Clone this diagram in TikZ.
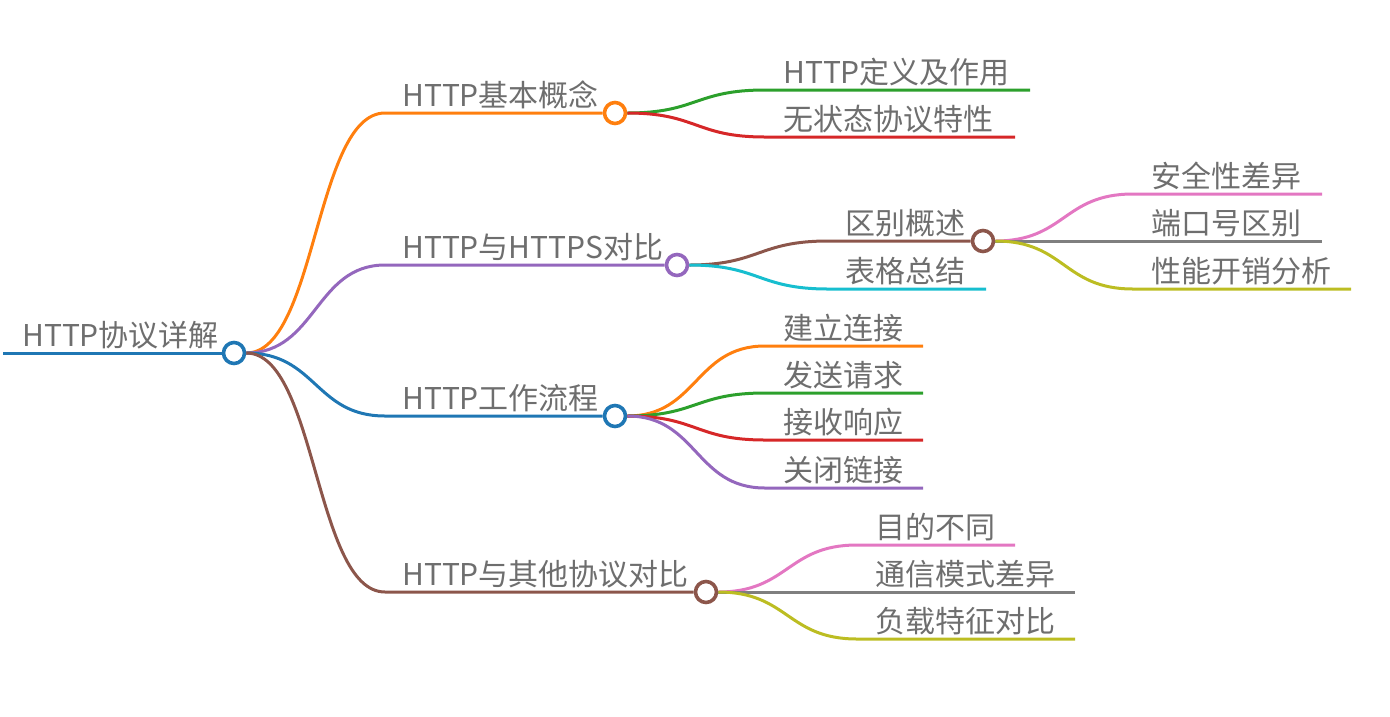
\documentclass[tikz,border=0pt]{standalone}
\usepackage{fontspec}
\setmainfont{Noto Sans CJK SC}
\definecolor{cO}{HTML}{FF7F0E}
\definecolor{cG}{HTML}{2CA02C}
\definecolor{cR}{HTML}{D62728}
\definecolor{cP}{HTML}{9467BD}
\definecolor{cBr}{HTML}{8C564B}
\definecolor{cPk}{HTML}{E377C2}
\definecolor{cGy}{HTML}{7F7F7F}
\definecolor{cOl}{HTML}{BCBD22}
\definecolor{cC}{HTML}{17BECF}
\definecolor{cB}{HTML}{1F77B4}
\definecolor{txt}{HTML}{6E6E6E}
\begin{document}
\begin{tikzpicture}[x=1pt,y=-1pt,
  edge/.style={line width=3pt},
  hub/.style={circle,draw,line width=2.6pt,fill=white,minimum size=22pt,inner sep=0pt},
  lbl/.style={anchor=base west,inner sep=0pt,text=txt,font=\fontsize{30}{36}\selectfont}]
\useasboundingbox (0,0) rectangle (1390,716);
% root
\coordinate (r0) at (3,353);
\node[hub,draw=cB] (r) at (234,353) {};
\node[lbl] (rt) at (22,346) {HTTP协议详解};
% level 1 hubs
\coordinate (a1s) at (385,113);
\node[hub,draw=cO] (a1) at (615,113) {};
\node[lbl] (a1t) at (402,106) {HTTP基本概念};
\coordinate (a2s) at (385,265);
\node[hub,draw=cP] (a2) at (677,265) {};
\node[lbl] (a2t) at (402,258) {HTTP与HTTPS对比};
\coordinate (a3s) at (385,416);
\node[hub,draw=cB] (a3) at (615,416) {};
\node[lbl] (a3t) at (402,409) {HTTP工作流程};
\coordinate (a4s) at (385,592);
\node[hub,draw=cBr] (a4) at (706,592) {};
\node[lbl] (a4t) at (402,585) {HTTP与其他协议对比};
% level 2 under a1
\coordinate (b1s) at (765,90); \coordinate (b1e) at (1030,90);
\node[lbl] (b1t) at (783,83) {HTTP定义及作用};
\coordinate (b2s) at (765,137); \coordinate (b2e) at (1015,137);
\node[lbl] (b2t) at (783,130) {无状态协议特性};
% level 2 under a2
\coordinate (c1s) at (828,241);
\node[hub,draw=cBr] (c1) at (983,241) {};
\node[lbl] (c1t) at (845,234) {区别概述};
\coordinate (c2s) at (828,289); \coordinate (c2e) at (986,289);
\node[lbl] (c2t) at (845,282) {表格总结};
% level 3 under c1
\coordinate (d1s) at (1133,194); \coordinate (d1e) at (1322,194);
\node[lbl] (d1t) at (1151,187) {安全性差异};
\coordinate (d2s) at (1133,241); \coordinate (d2e) at (1322,241);
\node[lbl] (d2t) at (1151,234) {端口号区别};
\coordinate (d3s) at (1133,289); \coordinate (d3e) at (1351,289);
\node[lbl] (d3t) at (1151,282) {性能开销分析};
% level 2 under a3
\coordinate (e1s) at (765,346); \coordinate (e1e) at (923,346);
\node[lbl] (e1t) at (783,339) {建立连接};
\coordinate (e2s) at (765,393); \coordinate (e2e) at (923,393);
\node[lbl] (e2t) at (783,386) {发送请求};
\coordinate (e3s) at (765,440); \coordinate (e3e) at (923,440);
\node[lbl] (e3t) at (783,433) {接收响应};
\coordinate (e4s) at (765,488); \coordinate (e4e) at (923,488);
\node[lbl] (e4t) at (783,481) {关闭链接};
% level 2 under a4
\coordinate (f1s) at (857,545); \coordinate (f1e) at (1015,545);
\node[lbl] (f1t) at (875,538) {目的不同};
\coordinate (f2s) at (857,592); \coordinate (f2e) at (1075,592);
\node[lbl] (f2t) at (875,585) {通信模式差异};
\coordinate (f3s) at (857,639); \coordinate (f3e) at (1075,639);
\node[lbl] (f3t) at (875,632) {负载特征对比};
% edges
\draw[edge,cB] (r0) -- (r.west);
\draw[edge,cO] (r.east) .. controls +(70,0) and +(-70,0) .. (a1s) -- (a1.west);
\draw[edge,cP] (r.east) .. controls +(70,0) and +(-70,0) .. (a2s) -- (a2.west);
\draw[edge,cB] (r.east) .. controls +(70,0) and +(-70,0) .. (a3s) -- (a3.west);
\draw[edge,cBr] (r.east) .. controls +(70,0) and +(-70,0) .. (a4s) -- (a4.west);
\draw[edge,cG] (a1.east) .. controls +(70,0) and +(-70,0) .. (b1s) -- (b1e);
\draw[edge,cR] (a1.east) .. controls +(70,0) and +(-70,0) .. (b2s) -- (b2e);
\draw[edge,cBr] (a2.east) .. controls +(70,0) and +(-70,0) .. (c1s) -- (c1.west);
\draw[edge,cC] (a2.east) .. controls +(70,0) and +(-70,0) .. (c2s) -- (c2e);
\draw[edge,cPk] (c1.east) .. controls +(70,0) and +(-70,0) .. (d1s) -- (d1e);
\draw[edge,cGy] (c1.east) -- (d2s) -- (d2e);
\draw[edge,cOl] (c1.east) .. controls +(70,0) and +(-70,0) .. (d3s) -- (d3e);
\draw[edge,cO] (a3.east) .. controls +(70,0) and +(-70,0) .. (e1s) -- (e1e);
\draw[edge,cG] (a3.east) .. controls +(70,0) and +(-70,0) .. (e2s) -- (e2e);
\draw[edge,cR] (a3.east) .. controls +(70,0) and +(-70,0) .. (e3s) -- (e3e);
\draw[edge,cP] (a3.east) .. controls +(70,0) and +(-70,0) .. (e4s) -- (e4e);
\draw[edge,cPk] (a4.east) .. controls +(70,0) and +(-70,0) .. (f1s) -- (f1e);
\draw[edge,cGy] (a4.east) -- (f2s) -- (f2e);
\draw[edge,cOl] (a4.east) .. controls +(70,0) and +(-70,0) .. (f3s) -- (f3e);
% redraw hubs on top
\foreach \n/\c in {r/cB,a1/cO,a2/cP,a3/cB,a4/cBr,c1/cBr}
  \draw[line width=2.6pt,\c,fill=white] (\n.center) circle (10pt);
\end{tikzpicture}
\end{document}
